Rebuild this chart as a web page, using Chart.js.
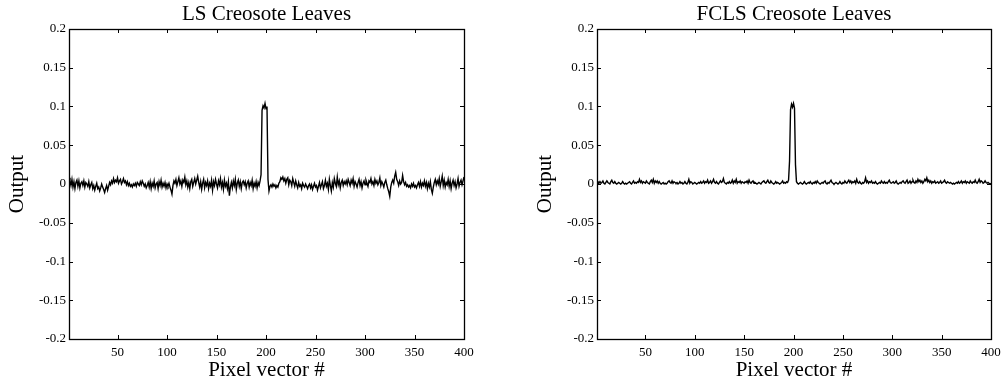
<!DOCTYPE html>
<html>
<head>
<meta charset="utf-8">
<script src="https://cdn.jsdelivr.net/npm/chart.js@4.4.1/dist/chart.umd.min.js"></script>
<style>
  html, body { margin: 0; padding: 0; background: #fff; }
  body { width: 1001px; height: 386px; position: relative; overflow: hidden; }
  .panel { position: absolute; top: 0; height: 386px; width: 480px; }
  #left { left: 0; }
  #right { left: 528px; }
</style>
</head>
<body>
<div class="panel" id="left"><canvas id="lsChart"></canvas></div>
<div class="panel" id="right"><canvas id="fclsChart"></canvas></div>
<script>
// tick values and labels shared by both panels
const xTicks = [50, 100, 150, 200, 250, 300, 350, 400];
const yTicks = [-0.2, -0.15, -0.1, -0.05, 0, 0.05, 0.1, 0.15, 0.2];
const yTickLabels = ['-0.2', '-0.15', '-0.1', '-0.05', '0', '0.05', '0.1', '0.15', '0.2'];

// LS abundance output, pixel vectors 1..400
const lsOutput = [
  0.008, 0.004, -0.002, 0.006, -0.004, 0.003, -0.006, 0.002, 0.005, -0.003, 0.004, -0.005, 0.001, 0.003, -0.002, 0.004, -0.004, 0.002, 0.000, -0.003,
  0.003, -0.005, -0.001, 0.002, -0.006, -0.002, -0.008, -0.003, 0.001, -0.006, -0.004, -0.009, -0.005, 0.000, -0.004, -0.007, -0.011, -0.006, -0.002, -0.008,
  -0.003, 0.002, -0.001, 0.004, 0.001, 0.007, 0.002, 0.005, 0.003, 0.008, 0.001, 0.004, 0.006, 0.000, 0.003, 0.007, 0.002, 0.004, -0.001, 0.003,
  -0.002, 0.001, -0.003, -0.001, -0.004, 0.000, -0.002, 0.001, -0.003, 0.002, 0.000, -0.002, 0.003, -0.001, 0.004, 0.001, -0.003, 0.000, -0.005, -0.002,
  0.002, -0.004, 0.003, -0.006, 0.001, -0.003, 0.004, -0.005, 0.000, 0.002, -0.006, 0.003, -0.002, 0.005, -0.004, 0.001, -0.003, 0.002, -0.005, 0.000,
  -0.003, 0.001, -0.004, -0.008, -0.013, -0.002, 0.004, 0.001, 0.006, -0.002, 0.003, 0.008, 0.000, 0.004, -0.003, 0.005, 0.002, 0.009, -0.001, 0.004,
  -0.004, 0.002, -0.006, 0.003, 0.006, -0.003, 0.002, 0.007, 0.000, 0.005, 0.010, 0.002, -0.004, 0.003, -0.007, 0.001, 0.006, -0.005, 0.002, -0.002,
  0.004, -0.006, 0.001, -0.003, 0.005, -0.008, 0.003, -0.002, 0.006, 0.000, -0.005, 0.004, -0.001, 0.007, -0.004, 0.002, -0.007, 0.005, -0.003, 0.001,
  -0.006, 0.003, -0.015, -0.004, 0.002, -0.005, 0.004, -0.002, 0.006, -0.007, 0.001, 0.005, -0.003, 0.003, -0.006, 0.002, 0.004, -0.001, 0.003, -0.005,
  0.001, 0.004, -0.004, 0.002, -0.002, 0.005, -0.006, 0.001, -0.003, 0.003, -0.005, 0.002, -0.002, 0.004, 0.012, 0.095, 0.101, 0.098, 0.104, 0.097,
  0.100, 0.006, -0.009, -0.003, -0.001, -0.004, 0.000, -0.003, -0.001, -0.005, -0.002, -0.004, 0.001, 0.003, 0.008, 0.006, 0.009, 0.004, 0.007, 0.001,
  0.006, 0.008, -0.001, 0.005, 0.003, -0.002, 0.007, 0.002, -0.003, 0.004, -0.001, -0.005, 0.002, -0.003, -0.001, -0.006, 0.001, -0.002, -0.004, 0.000,
  -0.003, -0.006, -0.002, 0.000, -0.005, -0.001, -0.007, -0.003, 0.001, -0.004, -0.002, -0.008, -0.003, 0.002, -0.005, -0.001, 0.003, -0.006, -0.002, 0.005,
  -0.003, 0.001, -0.007, 0.006, -0.002, -0.009, 0.002, -0.004, 0.007, 0.001, -0.003, 0.009, -0.001, 0.004, -0.005, 0.002, 0.005, -0.002, 0.003, 0.000,
  0.004, -0.001, 0.006, 0.002, -0.002, 0.005, 0.001, 0.007, -0.003, 0.003, 0.000, -0.004, 0.002, 0.006, -0.002, 0.003, -0.005, 0.001, 0.004, -0.001,
  0.005, 0.001, -0.003, 0.004, 0.002, 0.007, 0.000, 0.003, -0.002, 0.006, 0.001, 0.004, -0.001, 0.002, 0.008, -0.002, 0.003, 0.000, -0.004, 0.002,
  0.005, -0.001, -0.006, -0.010, -0.016, -0.004, 0.002, 0.005, 0.001, 0.010, 0.015, 0.006, 0.003, -0.002, 0.004, 0.000, 0.002, 0.011, 0.003, -0.001,
  0.002, -0.003, -0.001, -0.004, -0.002, -0.005, 0.000, -0.003, 0.001, -0.004, -0.002, -0.005, -0.001, 0.002, -0.003, 0.003, -0.004, 0.001, -0.002, 0.004,
  -0.003, 0.002, -0.006, 0.001, -0.004, 0.003, -0.007, -0.012, -0.004, 0.002, 0.006, -0.001, 0.004, 0.000, 0.007, -0.003, 0.003, 0.010, -0.002, 0.005,
  -0.004, 0.002, -0.001, 0.006, -0.003, 0.004, -0.006, 0.001, 0.005, -0.002, 0.003, -0.005, 0.000, 0.007, -0.003, 0.002, 0.005, -0.001, 0.004, 0.009
];

// FCLS abundance output, pixel vectors 1..400
const fclsOutput = [
  0.004, 0.002, 0.001, 0.003, 0.001, 0.002, 0.004, 0.001, 0.000, 0.002, 0.004, 0.002, 0.001, 0.000, 0.003, 0.005, 0.002, 0.001, 0.003, 0.001,
  0.000, 0.001, 0.002, 0.001, 0.000, 0.001, 0.003, 0.001, 0.000, 0.001, 0.000, 0.001, 0.002, 0.003, 0.001, 0.000, 0.002, 0.004, 0.001, 0.002,
  0.001, 0.003, 0.002, 0.006, 0.002, 0.004, 0.001, 0.003, 0.002, 0.001, 0.004, 0.002, 0.001, 0.000, 0.003, 0.005, 0.002, 0.006, 0.001, 0.004,
  0.002, 0.004, 0.001, 0.003, 0.001, 0.000, 0.001, 0.002, 0.000, 0.001, 0.000, 0.001, 0.003, 0.004, 0.002, 0.001, 0.004, 0.001, 0.003, 0.002,
  0.001, 0.002, 0.000, 0.001, 0.003, 0.001, 0.002, 0.000, 0.001, 0.003, 0.001, 0.000, 0.002, 0.006, 0.001, 0.003, 0.002, 0.000, 0.001, 0.002,
  0.001, 0.000, 0.001, 0.002, 0.001, 0.003, 0.001, 0.002, 0.004, 0.001, 0.003, 0.002, 0.005, 0.001, 0.002, 0.004, 0.001, 0.003, 0.006, 0.002,
  0.001, 0.003, 0.001, 0.000, 0.002, 0.004, 0.002, 0.003, 0.007, 0.002, 0.001, 0.000, 0.002, 0.001, 0.003, 0.001, 0.002, 0.005, 0.001, 0.004,
  0.002, 0.006, 0.001, 0.003, 0.002, 0.004, 0.001, 0.003, 0.002, 0.001, 0.003, 0.002, 0.004, 0.001, 0.005, 0.002, 0.001, 0.003, 0.004, 0.001,
  0.002, 0.001, 0.000, 0.001, 0.002, 0.001, 0.000, 0.002, 0.003, 0.004, 0.002, 0.001, 0.003, 0.005, 0.002, 0.001, 0.004, 0.002, 0.001, 0.000,
  0.001, 0.003, 0.001, 0.002, 0.001, 0.000, 0.001, 0.002, 0.004, 0.001, 0.002, 0.001, 0.003, 0.002, 0.005, 0.030, 0.096, 0.103, 0.099, 0.104,
  0.098, 0.025, 0.003, 0.001, 0.000, 0.001, 0.002, 0.001, 0.000, 0.001, 0.003, 0.001, 0.000, 0.001, 0.002, 0.001, 0.003, 0.001, 0.000, 0.002,
  0.001, 0.003, 0.001, 0.004, 0.002, 0.001, 0.000, 0.001, 0.002, 0.001, 0.003, 0.004, 0.001, 0.000, 0.002, 0.001, 0.003, 0.005, 0.002, 0.001,
  0.000, 0.001, 0.002, 0.001, 0.000, 0.001, 0.003, 0.001, 0.000, 0.002, 0.001, 0.004, 0.002, 0.001, 0.003, 0.005, 0.002, 0.004, 0.001, 0.003,
  0.002, 0.004, 0.001, 0.006, 0.002, 0.001, 0.003, 0.001, 0.000, 0.002, 0.001, 0.003, 0.008, 0.002, 0.004, 0.001, 0.003, 0.002, 0.004, 0.001,
  0.002, 0.001, 0.003, 0.001, 0.000, 0.001, 0.002, 0.001, 0.004, 0.002, 0.001, 0.003, 0.001, 0.002, 0.001, 0.003, 0.005, 0.002, 0.001, 0.002,
  0.003, 0.001, 0.002, 0.004, 0.001, 0.000, 0.001, 0.002, 0.001, 0.003, 0.004, 0.002, 0.001, 0.003, 0.005, 0.001, 0.002, 0.004, 0.001, 0.003,
  0.005, 0.002, 0.001, 0.004, 0.002, 0.006, 0.003, 0.005, 0.002, 0.004, 0.001, 0.003, 0.006, 0.004, 0.008, 0.003, 0.005, 0.002, 0.004, 0.001,
  0.003, 0.002, 0.004, 0.001, 0.002, 0.003, 0.001, 0.002, 0.004, 0.001, 0.002, 0.003, 0.005, 0.002, 0.001, 0.003, 0.002, 0.001, 0.002, 0.001,
  0.000, 0.001, 0.000, 0.001, 0.002, 0.001, 0.003, 0.001, 0.002, 0.004, 0.001, 0.003, 0.002, 0.004, 0.001, 0.003, 0.002, 0.001, 0.004, 0.002,
  0.001, 0.003, 0.002, 0.005, 0.002, 0.001, 0.003, 0.006, 0.002, 0.004, 0.003, 0.001, 0.002, 0.004, 0.002, 0.001, 0.002, 0.001, 0.000, 0.001
];

const SERIF = "'Liberation Serif', 'DejaVu Serif', serif";

// MATLAB-style box with inward ticks on all four sides
const boxTicks = {
  id: 'boxTicks',
  afterDraw(chart) {
    const { ctx, chartArea: a, scales } = chart;
    const len = 4;
    ctx.save();
    ctx.strokeStyle = '#000';
    ctx.lineWidth = 1;
    ctx.beginPath();
    scales.x.ticks.forEach(t => {
      const px = Math.round(scales.x.getPixelForValue(t.value)) + 0.5;
      ctx.moveTo(px, a.bottom); ctx.lineTo(px, a.bottom - len);
      ctx.moveTo(px, a.top); ctx.lineTo(px, a.top + len);
    });
    scales.y.ticks.forEach(t => {
      const py = Math.round(scales.y.getPixelForValue(t.value)) + 0.5;
      ctx.moveTo(a.left, py); ctx.lineTo(a.left + len, py);
      ctx.moveTo(a.right, py); ctx.lineTo(a.right - len, py);
    });
    ctx.stroke();
    ctx.lineWidth = 1.3;
    ctx.strokeRect(Math.round(a.left) + 0.5, Math.round(a.top) + 0.5,
      Math.round(a.right - a.left), Math.round(a.bottom - a.top));
    ctx.restore();
  }
};

let makeChart = function (canvasId, title, values, padRight) {
  const points = values.map((v, i) => ({ x: i + 1, y: v }));
  return new Chart(document.getElementById(canvasId), {
    type: 'line',
    data: {
      datasets: [{
        data: points,
        borderColor: '#000',
        borderWidth: 1.4,
        pointRadius: 0,
        tension: 0,
        fill: false
      }]
    },
    options: {
      responsive: true,
      maintainAspectRatio: false,
      animation: false,
      events: [],
      layout: { padding: { left: 0, right: padRight, top: 0, bottom: 0 } },
      plugins: {
        legend: { display: false },
        tooltip: { enabled: false },
        title: {
          display: true,
          fullSize: false,
          text: title,
          color: '#000',
          font: { family: SERIF, size: 21, weight: 'normal', lineHeight: 1.2 },
          padding: { top: 2, bottom: 1.8 }
        }
      },
      scales: {
        x: {
          type: 'linear',
          min: 1,
          max: 400,
          afterBuildTicks: s => { s.ticks = xTicks.map(v => ({ value: v })); },
          afterFit: s => { s.height = 47; },
          grid: { display: false, drawTicks: false },
          border: { display: false },
          ticks: {
            color: '#000',
            padding: 6,
            maxRotation: 0,
            autoSkip: false,
            font: { family: SERIF, size: 13 }
          },
          title: {
            display: true,
            text: 'Pixel vector #',
            color: '#000',
            font: { family: SERIF, size: 21, lineHeight: 1.2 },
            padding: { top: 0, bottom: 3 }
          }
        },
        y: {
          min: -0.2,
          max: 0.2,
          afterBuildTicks: s => { s.ticks = yTicks.map(v => ({ value: v })); },
          afterFit: s => { s.width = 69; },
          grid: { display: false, drawTicks: false },
          border: { display: false },
          ticks: {
            color: '#000',
            padding: 3,
            autoSkip: false,
            font: { family: SERIF, size: 13 },
            callback: function (value, index) {
              return yTickLabels[index];
            }
          },
          title: {
            display: true,
            text: 'Output',
            color: '#000',
            font: { family: SERIF, size: 21, lineHeight: 1.2 },
            padding: { top: 5, bottom: 0 }
          }
        }
      }
    },
    plugins: [boxTicks]
  });
};

makeChart('lsChart', 'LS Creosote Leaves', lsOutput, 16);
makeChart('fclsChart', 'FCLS Creosote Leaves', fclsOutput, 17);
</script>
</body>
</html>
